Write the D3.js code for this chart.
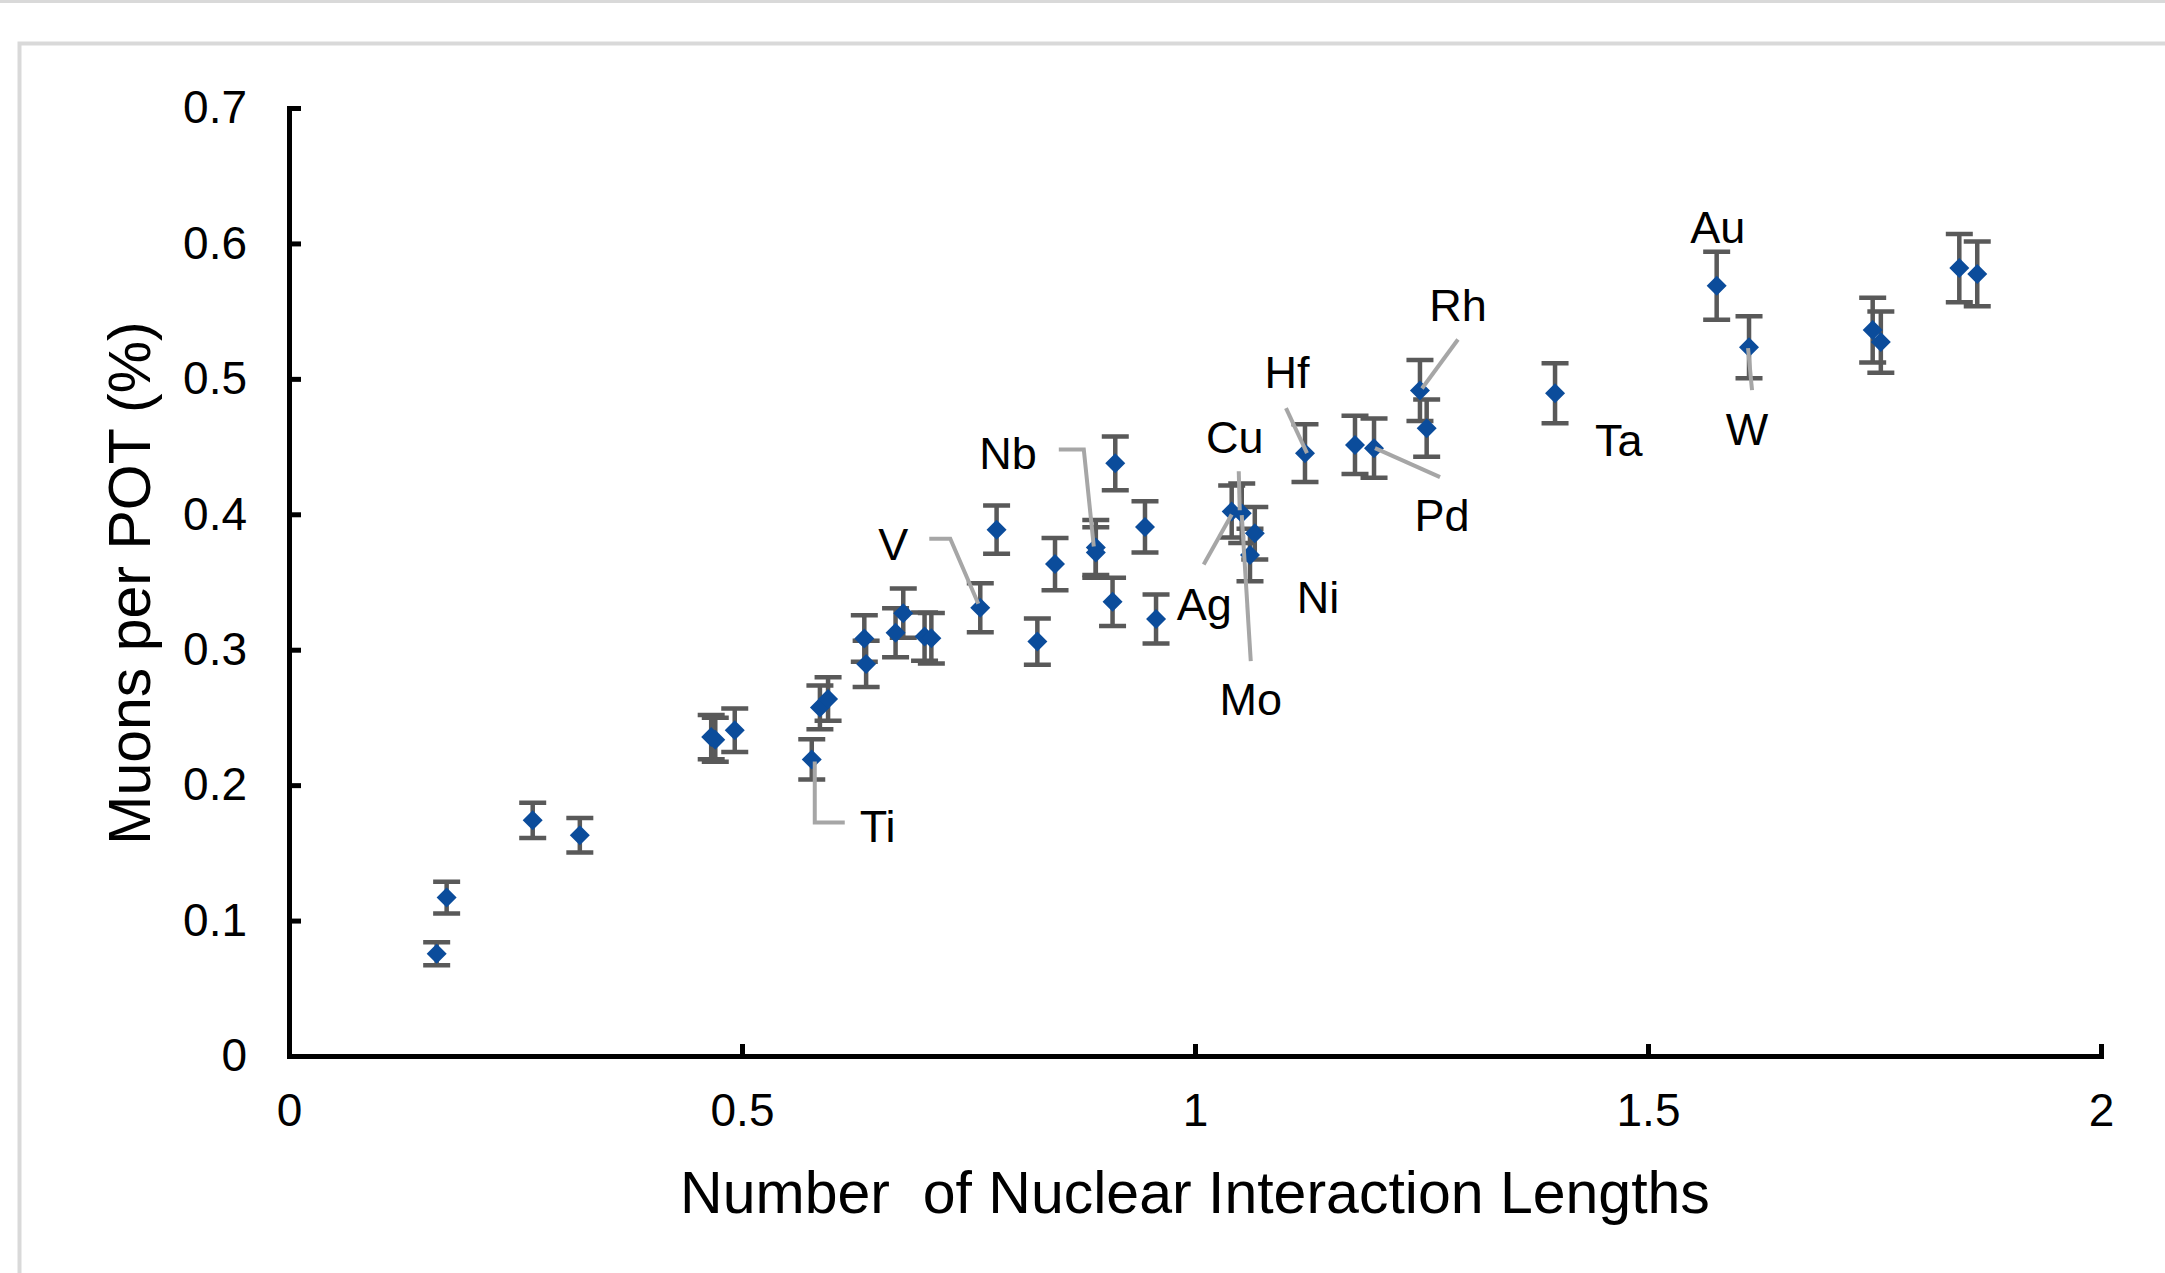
<!DOCTYPE html>
<html>
<head>
<meta charset="utf-8">
<script src="https://cdn.jsdelivr.net/npm/d3@7"></script>
<style>
  body { margin: 0; background: #fff; }
  svg { display: block; font-family: "Liberation Sans", Arial, sans-serif; }
  .axis path, .axis line { stroke: #000; stroke-width: 5; }
  .axis text { font-size: 46px; fill: #000; font-family: "Liberation Sans", Arial, sans-serif; }
  .err { stroke: #595959; stroke-width: 4.5; fill: none; }
  .dot { fill: #0b4c9b; }
  .leader { stroke: #a6a6a6; stroke-width: 4; fill: none; }
  .lbl { font-size: 45px; fill: #000; }
  .title { font-size: 59px; fill: #000; white-space: pre; }
</style>
</head>
<body>
<svg width="2165" height="1273"></svg>
<script>
// number of nuclear interaction lengths (x), muons per POT in % (y), error
var lengths = [0.163, 0.174, 0.269, 0.321, 0.466, 0.4705, 0.492, 0.577, 0.586, 0.595,
               0.635, 0.637, 0.6695, 0.678, 0.7015, 0.709, 0.763, 0.781, 0.826, 0.8455,
               0.8905, 0.8905, 0.909, 0.912, 0.9448, 0.957, 1.0405, 1.0516, 1.066, 1.0607,
               1.1214, 1.1766, 1.1976, 1.2483, 1.2557, 1.3974, 1.5758, 1.6115, 1.748, 1.757,
               1.8436, 1.8634];
var muons = [0.0755, 0.117, 0.174, 0.163, 0.2355, 0.2335, 0.2405, 0.219, 0.2574, 0.2636,
             0.3083, 0.2895, 0.3126, 0.327, 0.3097, 0.3085, 0.331, 0.3886, 0.306, 0.3632,
             0.3755, 0.3718, 0.3354, 0.4376, 0.3907, 0.3227, 0.402, 0.4008, 0.386, 0.37,
             0.4451, 0.4512, 0.4488, 0.4914, 0.4636, 0.4894, 0.5687, 0.5234, 0.536, 0.5272,
             0.5818, 0.5775];
var errors = [0.0085, 0.0117, 0.013, 0.0128, 0.0163, 0.0163, 0.0161, 0.0149, 0.0161, 0.016,
              0.0172, 0.0171, 0.0181, 0.0182, 0.0178, 0.0187, 0.0181, 0.0178, 0.0171, 0.0193,
              0.0203, 0.0187, 0.0178, 0.0199, 0.019, 0.0181, 0.0192, 0.022, 0.0193, 0.0194,
              0.0213, 0.0215, 0.0219, 0.0225, 0.0212, 0.0222, 0.0251, 0.0229, 0.0239, 0.0226,
              0.0252, 0.0239];

// element labels and the point each one belongs to
var labelNames = ["Ti", "V", "Nb", "Cu", "Ag", "Mo", "Ni", "Hf", "Pd", "Rh", "Ta", "Au", "W"];
var labelPoint = [7, 16, 20, 27, 26, 27, 28, 30, 32, 33, 35, 36, 37];

var xTicks = [0, 0.5, 1, 1.5, 2];
var yTicks = [0, 0.1, 0.2, 0.3, 0.4, 0.5, 0.6, 0.7];

// label placement, pixel offsets from the point (anchor, dx, dy, leader line)
var labelLayout = {
  Ti: {anchor: "start", dx: 48, dy: 83, leader: [[3, 2], [3, 63], [33, 63]]},
  V:  {anchor: "start", dx: -102, dy: -48, leader: [[-51, -69], [-30, -69], [-2, -4]]},
  Nb: {anchor: "end", dx: -59, dy: -78, leader: [[-37, -98], [-12, -98], [-2, -1]]},
  Cu: {anchor: "middle", dx: -7, dy: -60, leader: [[-3, -42], [-2, -3]]},
  Ag: {anchor: "start", dx: -55, dy: 108, leader: [[-28, 53], [0, 3]]},
  Mo: {anchor: "middle", dx: 9, dy: 202, leader: [[9, 148], [0, 2]]},
  Ni: {anchor: "start", dx: 42, dy: 80, leader: null},
  Hf: {anchor: "middle", dx: -18, dy: -65, leader: [[-19, -45], [2, 0]]},
  Pd: {anchor: "middle", dx: 68, dy: 83, leader: [[66, 29], [1, 0]]},
  Rh: {anchor: "middle", dx: 38, dy: -70, leader: [[38, -51], [2, -2]]},
  Ta: {anchor: "start", dx: 40, dy: 63, leader: null},
  Au: {anchor: "middle", dx: 1, dy: -43, leader: null},
  W:  {anchor: "middle", dx: -2, dy: 98, leader: [[3, 43], [-1, 1]]}
};

var data = lengths.map(function(d, i) {
    return {x: d, y: muons[i], e: errors[i]};
});

var margin = {top: 108, right: 64, bottom: 217, left: 289},
    width = 2165 - margin.left - margin.right,
    height = 1273 - margin.top - margin.bottom;

var x = d3.scaleLinear().domain([0, 2]).range([0, width]);
var y = d3.scaleLinear().domain([0, 0.7]).range([height, 0]);

var svg = d3.select("svg");

// outer chart frame (light grey)
svg.append("rect")
    .attr("x", 0).attr("y", 0)
    .attr("width", 2165).attr("height", 3)
    .attr("fill", "#d9d9d9");
svg.append("path")
    .attr("d", "M19.5,1273V43.5H2165")
    .attr("fill", "none")
    .attr("stroke", "#d9d9d9")
    .attr("stroke-width", 4);

var g = svg.append("g")
    .attr("transform", "translate(" + margin.left + "," + margin.top + ")");

var fmt = function(d) { return String(+d.toFixed(1)); };

g.append("g")
    .attr("class", "axis axis--x")
    .attr("transform", "translate(0," + height + ")")
    .call(d3.axisBottom(x).tickValues(xTicks).tickFormat(fmt)
        .tickSizeInner(-12).tickSizeOuter(0).tickPadding(37));

g.append("g")
    .attr("class", "axis axis--y")
    .call(d3.axisLeft(y).tickValues(yTicks).tickFormat(fmt)
        .tickSizeInner(-12).tickSizeOuter(0).tickPadding(42));

g.selectAll(".axis .domain").attr("stroke-linecap", "square");

// error bars
var capW = 13.5;
g.selectAll(".err")
  .data(data)
  .enter().append("path")
    .attr("class", "err")
    .attr("d", function(d) {
        var cx = x(d.x), y0 = y(d.y - d.e), y1 = y(d.y + d.e);
        return "M" + cx + "," + y0 + "V" + y1 +
               "M" + (cx - capW) + "," + y1 + "H" + (cx + capW) +
               "M" + (cx - capW) + "," + y0 + "H" + (cx + capW);
    });

// diamond markers
var r = 10;
g.selectAll(".dot")
  .data(data)
  .enter().append("path")
    .attr("class", "dot")
    .attr("d", function(d) {
        var cx = x(d.x), cy = y(d.y);
        return "M" + cx + "," + (cy - r) + "L" + (cx + r) + "," + cy +
               "L" + cx + "," + (cy + r) + "L" + (cx - r) + "," + cy + "Z";
    });

// leader lines and element labels
var labels = labelNames.map(function(n, i) {
    return {name: n, p: data[labelPoint[i]], lay: labelLayout[n]};
});

g.selectAll(".leader")
  .data(labels.filter(function(d) { return d.lay.leader; }))
  .enter().append("path")
    .attr("class", "leader")
    .attr("d", function(d) {
        var cx = x(d.p.x), cy = y(d.p.y);
        return d3.line()(d.lay.leader.map(function(o) { return [cx + o[0], cy + o[1]]; }));
    });

g.selectAll(".lbl")
  .data(labels)
  .enter().append("text")
    .attr("class", "lbl")
    .attr("text-anchor", function(d) { return d.lay.anchor; })
    .attr("x", function(d) { return x(d.p.x) + d.lay.dx; })
    .attr("y", function(d) { return y(d.p.y) + d.lay.dy; })
    .text(function(d) { return d.name; });

// axis titles
g.append("text")
    .attr("class", "title")
    .attr("text-anchor", "middle")
    .attr("x", width / 2)
    .attr("y", height + 157)
    .text("Number  of Nuclear Interaction Lengths");

g.append("text")
    .attr("class", "title")
    .attr("text-anchor", "middle")
    .attr("transform", "translate(" + (150 - margin.left) + "," + (583 - margin.top) + ") rotate(-90)")
    .text("Muons per POT (%)");
</script>
</body>
</html>
